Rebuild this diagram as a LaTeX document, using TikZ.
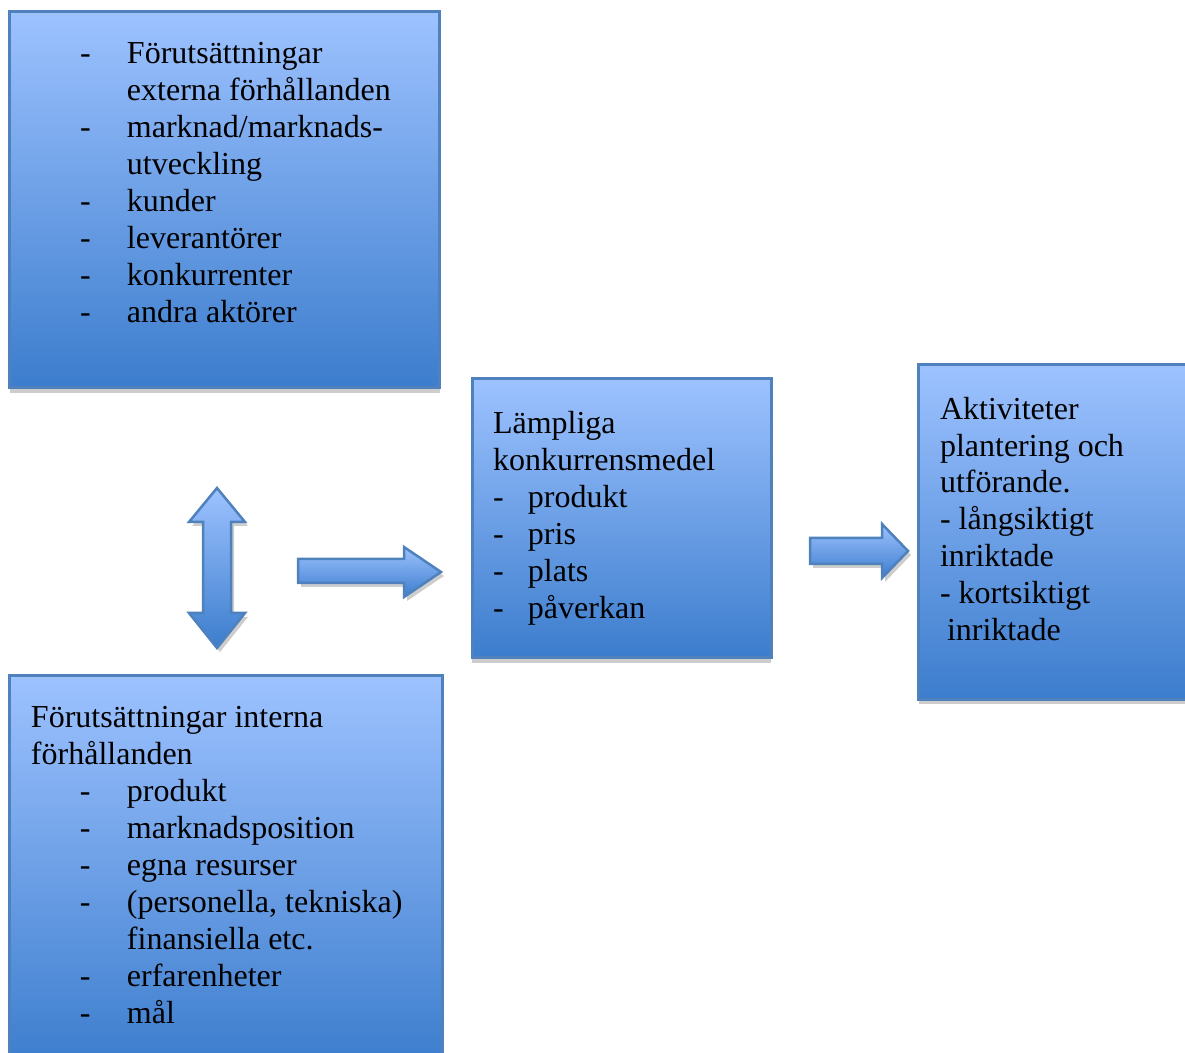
\documentclass[tikz,border=0pt]{standalone}
\usepackage{fontspec}
\setmainfont{Liberation Serif}
\usetikzlibrary{shadows}
\definecolor{bordc}{RGB}{79,129,189}
\definecolor{topc}{RGB}{157,194,255}
\definecolor{botc}{RGB}{60,125,205}
\definecolor{shc}{RGB}{205,205,205}
\tikzset{
  panel/.style={draw=bordc, line width=1.5pt, top color=topc, bottom color=botc,
    rectangle, inner sep=0pt, outer sep=0pt, anchor=north west,
    drop shadow={shadow xshift=0pt, shadow yshift=-2.5pt, fill=shc, opacity=1}},
  txt/.style={anchor=north west, inner sep=0pt, outer sep=0pt, align=left,
    font=\fontsize{16}{18.5}\selectfont},
  blockarrow/.style={draw=bordc, line width=1.25pt, top color=topc, bottom color=botc, line join=miter},
  arrshadow/.style={fill=shc}
}
\newcommand\dashA[1]{\makebox[23.5pt][l]{-}#1}
\newcommand\dashB[1]{\makebox[17.5pt][l]{-}#1}
\begin{document}
\begin{tikzpicture}[x=0.5pt,y=-0.5pt]
\useasboundingbox (0,0) rectangle (1185,1053);
\clip (0,0) rectangle (1185,1053);
% boxes
\node[panel, minimum width=215pt, minimum height=188.25pt] (ext) at (9.5,11.5) {};
\node[panel, minimum width=149.5pt, minimum height=139.75pt] (medel) at (472,378.5) {};
\node[panel, minimum width=140pt, minimum height=167.5pt] (akt) at (918.5,364.5) {};
\node[panel, minimum width=216.5pt, minimum height=195pt] (int) at (9.5,676) {};
% texts
\node[txt] (extT) at (80,37.6) {\strut\dashA{Förutsättningar}\\
\hspace*{23.5pt}externa förhållanden\\
\dashA{marknad/marknads-}\\
\hspace*{23.5pt}utveckling\\
\dashA{kunder}\\
\dashA{leverantörer}\\
\dashA{konkurrenter}\\
\dashA{andra aktörer}};
\node[txt] (medelT) at (493,407.6) {\strut Lämpliga\\
konkurrensmedel\\
\dashB{produkt}\\
\dashB{pris}\\
\dashB{plats}\\
\dashB{påverkan}};
\node[txt] (aktT) at (940,393.1) {\strut Aktiviteter\\
plantering och\\
utförande.\\
- långsiktigt\\
inriktade\\
- kortsiktigt\\
\hspace*{3.5pt}inriktade};
\node[txt] (intT) at (31,701.6) {\strut Förutsättningar interna\\
förhållanden\\
\hspace*{24.5pt}\dashA{produkt}\\
\hspace*{24.5pt}\dashA{marknadsposition}\\
\hspace*{24.5pt}\dashA{egna resurser}\\
\hspace*{24.5pt}\dashA{(personella, tekniska)}\\
\hspace*{48pt}finansiella etc.\\
\hspace*{24.5pt}\dashA{erfarenheter}\\
\hspace*{24.5pt}\dashA{mål}};
% double arrow (ext <-> int)
\fill[arrshadow] (220,492) -- (248,526) -- (234,526) -- (234,617) -- (248,617) -- (220,652) -- (192,617) -- (206,617) -- (206,526) -- (192,526) -- cycle;
\path[blockarrow] (217,488) -- (245,522) -- (231,522) -- (231,613) -- (245,613) -- (217,648) -- (189,613) -- (203,613) -- (203,522) -- (189,522) -- cycle;
% arrow to medel
\fill[arrshadow] (301,563) -- (407,563) -- (407,551) -- (444,576) -- (407,601) -- (407,587) -- (301,587) -- cycle;
\path[blockarrow] (298,559) -- (404,559) -- (404,547) -- (441,572) -- (404,597) -- (404,583) -- (298,583) -- cycle;
% arrow to akt
\fill[arrshadow] (813,542) -- (885,542) -- (885,528) -- (911,555) -- (885,582) -- (885,568) -- (813,568) -- cycle;
\path[blockarrow] (810,538) -- (882,538) -- (882,524) -- (908,551) -- (882,578) -- (882,564) -- (810,564) -- cycle;
\end{tikzpicture}
\end{document}
